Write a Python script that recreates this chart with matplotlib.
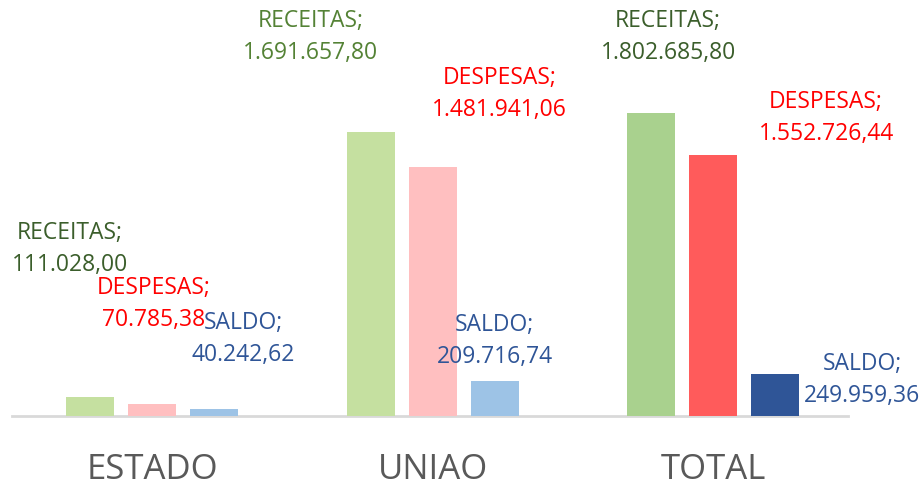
import matplotlib
matplotlib.use("Agg")
import matplotlib.pyplot as plt
import numpy as np

plt.rcParams["font.family"] = ["Open Sans", "DejaVu Sans"]

categories = ["ESTADO", "UNIAO", "TOTAL"]
series = ["RECEITAS", "DESPESAS", "SALDO"]
receitas = [111028.00, 1691657.80, 1802685.80]
despesas = [70785.38, 1481941.06, 1552726.44]
saldo = [40242.62, 209716.74, 249959.36]
values = [receitas, despesas, saldo]

# fill colours: first two groups pale, TOTAL saturated
fills = [
    ["#C5E0A0", "#C5E0A0", "#A9D18E"],
    ["#FFBFC0", "#FFBFC0", "#FF5B5B"],
    ["#9DC3E6", "#9DC3E6", "#2F5597"],
]
label_colors = {
    "RECEITAS": ["#3B5E2B", "#548235", "#3B5E2B"],
    "DESPESAS": ["#FF0000", "#FF0000", "#FF0000"],
    "SALDO": ["#2F5597", "#2F5597", "#2F5597"],
}
# label offsets (pixels) of the text centre from the bar top centre
offsets = {
    "RECEITAS": [(-20, 148), (-60, 95), (17, 76)],
    "DESPESAS": [(2, 100), (67, 73), (113, 37)],
    "SALDO": [(29, 70), (0, 40), (87, -6)],
}


def fmt(v):
    s = f"{v:,.2f}"
    return s.replace(",", "X").replace(".", ",").replace("X", ".")


fig = plt.figure(figsize=(9.19, 4.86), dpi=100)
ax = fig.add_axes([0, 0, 1, 1])
x = np.arange(len(categories))
width = 0.171
step = 0.221
for i, (name, vals) in enumerate(zip(series, values)):
    pos = x + (i - 1) * step
    ax.bar(pos, vals, width, color=fills[i], zorder=2)
    for j in range(len(categories)):
        dx, dy = offsets[name][j]
        ax.annotate(f"{name};\n{fmt(vals[j])}", (pos[j], vals[j]), xytext=(dx, dy),
                    textcoords="offset pixels", ha="center", va="center",
                    fontsize=16.5, color=label_colors[name][j], linespacing=1.45)

ax.set_xlim(-0.542, 2.734)
ax.set_ylim(-416460, 2474980)
ax.plot([-0.5, 2.48], [0, 0], color="#D9D9D9", lw=2, zorder=1)
for j, c in enumerate(categories):
    ax.text(x[j], 0.033, c, transform=ax.get_xaxis_transform(), ha="center", va="center",
            fontsize=25, color="#595959")
ax.axis("off")
fig.savefig("out.png", dpi=100)
